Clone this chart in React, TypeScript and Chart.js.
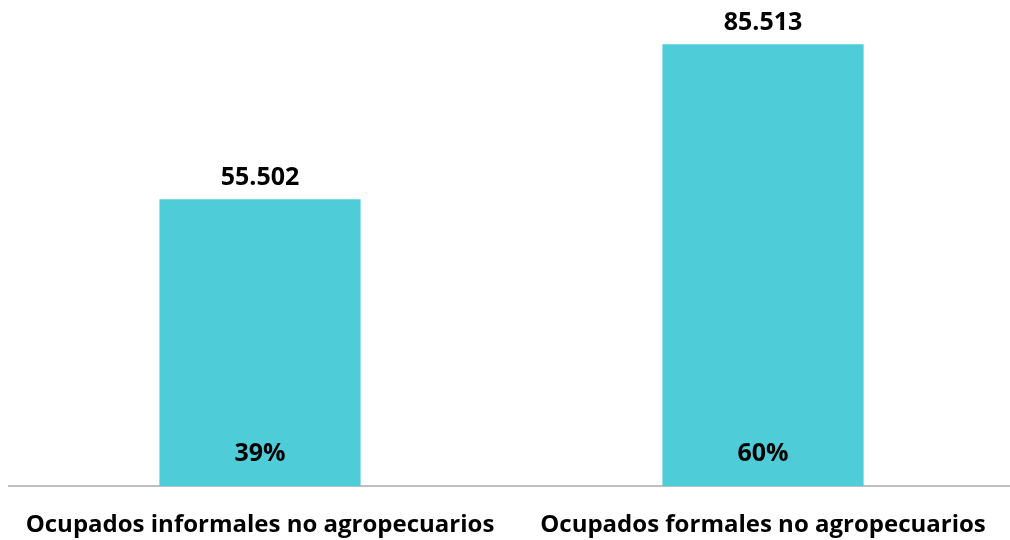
import React, { useEffect, useRef } from "react";
import { Chart, registerables } from "chart.js";

Chart.register(...registerables);

const categories = ["Ocupados informales no agropecuarios", "Ocupados formales no agropecuarios"];
const values = [55502, 85513];
const shares = [39, 60];

const fmt = (v: number) => String(v).replace(/\B(?=(\d{3})+(?!\d))/g, ".");

const labelPlugin = {
  id: "barLabels",
  afterDatasetsDraw(chart: any) {
    const ctx = chart.ctx;
    const meta = chart.getDatasetMeta(0);
    ctx.save();
    ctx.fillStyle = "#000000";
    ctx.textAlign = "center";
    ctx.textBaseline = "middle";
    ctx.font = "bold 25px 'Open Sans'";
    meta.data.forEach((bar: any, i: number) => {
      ctx.fillText(fmt(values[i]), bar.x, bar.y - 21);
      ctx.fillText(shares[i] + "%", bar.x, chart.chartArea.bottom - 32);
    });
    ctx.restore();
  },
};

export default function App() {
  const ref = useRef<HTMLCanvasElement | null>(null);
  useEffect(() => {
    if (!ref.current) return;
    const chart = new Chart(ref.current, {
      type: "bar",
      data: {
        labels: categories,
        datasets: [
          {
            data: values,
            backgroundColor: "#4ECDD9",
            borderWidth: 0,
            barPercentage: 0.4,
            categoryPercentage: 1,
          },
        ],
      },
      options: {
        animation: false,
        responsive: false,
        maintainAspectRatio: false,
        layout: { padding: { left: 12.5, right: 1.5, top: 21, bottom: -25 } },
        plugins: { legend: { display: false }, tooltip: { enabled: false } },
        scales: {
          y: { display: false, min: 0, max: 90000 },
          x: {
            grid: { display: false, drawTicks: false },
            border: { display: true, color: "#BFBFBF", width: 2 },
            ticks: {
              color: "#000000",
              padding: 25,
              font: { family: "'Open Sans'", size: 24, weight: "bold" },
              maxRotation: 0,
              autoSkip: false,
            },
          },
        },
      },
      plugins: [labelPlugin],
    });
    return () => chart.destroy();
  }, []);
  return (
    <div style={{ position: "fixed", left: 0, top: 0, width: 1010, height: 540, overflow: "hidden", background: "#fff" }}>
      <canvas ref={ref} width={1020} height={540} style={{ display: "block", marginLeft: -4 }} />
    </div>
  );
}
